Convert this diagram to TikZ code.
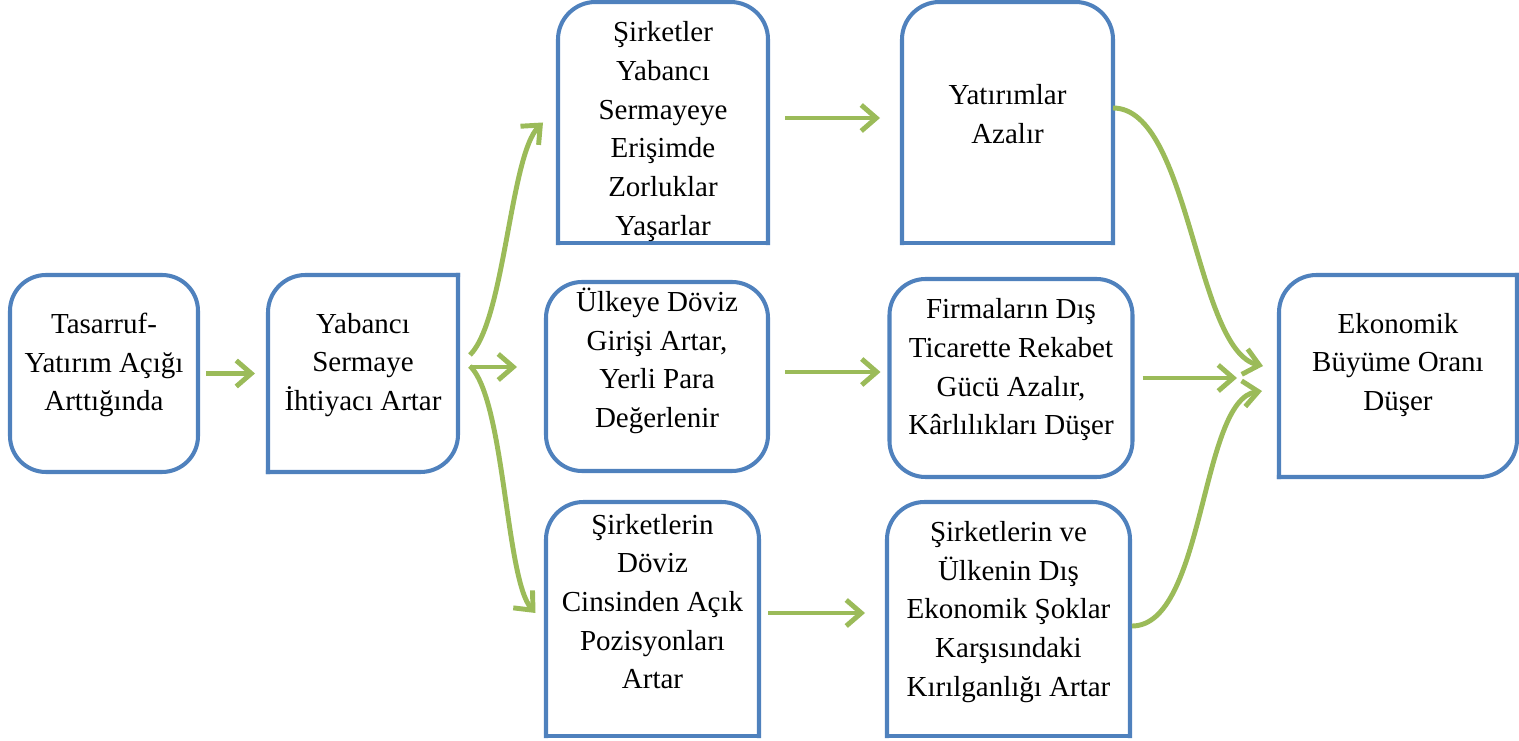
\documentclass[tikz,border=0pt]{standalone}
\usepackage{fontspec}
\setmainfont{Liberation Serif}
\usetikzlibrary{arrows.meta}
\definecolor{boxblue}{HTML}{4F81BD}
\definecolor{arrowgreen}{HTML}{9BBB59}

\begin{document}
\begin{tikzpicture}[
        box/.style={inner sep=0pt, outer sep=0pt},
        round/.style={box, draw=boxblue, line width=2.3pt, rounded corners=0.72cm},
        edge/.style={draw=boxblue, line width=2.3pt, rounded corners=0.75cm, line cap=rect},
        txt/.style={align=center, inner sep=0pt, font=\fontsize{16.5}{22}\selectfont},
        flow/.style={draw=arrowgreen, line width=2.8pt, -{Straight Barb[length=0.3cm,width=0.52cm]}}]
        \useasboundingbox (0,0) rectangle (30.38,14.8);

        \node[round, minimum width=3.76cm, minimum height=3.94cm] (1) at (2.08,7.33) {};
        \node[box, minimum width=3.80cm, minimum height=3.94cm] (2) at (7.26,7.33) {};
        \node[box, minimum width=4.20cm, minimum height=4.82cm] (3) at (13.26,12.35) {};
        \node[box, minimum width=4.22cm, minimum height=4.82cm] (4) at (20.15,12.35) {};
        \node[round, minimum width=4.44cm, minimum height=3.78cm] (5) at (13.14,7.27) {};
        \node[round, minimum width=4.86cm, minimum height=3.96cm] (6) at (20.22,7.24) {};
        \node[box, minimum width=4.26cm, minimum height=4.68cm] (7) at (13.05,2.42) {};
        \node[box, minimum width=4.86cm, minimum height=4.68cm] (8) at (20.17,2.42) {};
        \node[box, minimum width=4.76cm, minimum height=4.04cm] (9) at (27.96,7.28) {};

        %\path[edge] (2.south west) rectangle (2.north east);
        \path[edge] (2.north east) -- (2.north west) -- (2.south west);
        \path[edge] (2.south west) -- (2.south east) -- (2.north east);
        \path[edge] (3.south west) -- (3.north west) -- (3.north east) -- (3.south east);
        \path[edge] (3.south west) -- (3.south east);
        \path[edge] (4.south west) -- (4.north west) -- (4.north east) -- (4.south east);
        \path[edge] (4.south west) -- (4.south east);
        \path[edge] (7.south west) -- (7.north west) -- (7.north east) -- (7.south east);
        \path[edge] (7.south west) -- (7.south east);
        \path[edge] (8.south west) -- (8.north west) -- (8.north east) -- (8.south east);
        \path[edge] (8.south west) -- (8.south east);
        \path[edge] (9.north east) -- (9.north west) -- (9.south west);
        \path[edge] (9.south west) -- (9.south east) -- (9.north east);

        \node[txt] (t1) at (2.08,7.50) {Tasarruf-\\Yatırım Açığı\\Arttığında};
        \node[txt] (t2) at (7.26,7.50) {Yabancı\\Sermaye\\İhtiyacı Artar};
        \node[txt] (t3) at (13.26,12.17) {Şirketler\\Yabancı\\Sermayeye\\Erişimde\\Zorluklar\\Yaşarlar};
        \node[txt] (t4) at (20.15,12.52) {Yatırımlar\\Azalır};
        \node[txt] (t5) at (13.14,7.58) {Ülkeye Döviz\\Girişi Artar,\\Yerli Para\\Değerlenir};
        \node[txt] (t6) at (20.22,7.40) {Firmaların Dış\\Ticarette Rekabet\\Gücü Azalır,\\Kârlılıkları Düşer};
        \node[txt] (t7) at (13.05,2.77) {Şirketlerin\\Döviz\\Cinsinden Açık\\Pozisyonları\\Artar};
        \node[txt] (t8) at (20.17,2.56) {Şirketlerin ve\\Ülkenin Dış\\Ekonomik Şoklar\\Karşısındaki\\Kırılganlığı Artar};
        \node[txt] (t9) at (27.96,7.50) {Ekonomik\\Büyüme Oranı\\Düşer};

        \path[flow,shorten <=0.16cm,shorten >=0.26cm] (1) -- (2);
        \path[flow] ([shift={(0.24,0.37)}]2.east) .. controls +(0.7,0.7) and +(-0.66,-0.64) .. ([xshift=-0.3cm]3.west);
        \path[flow,shorten <=0.24cm,shorten >=0.58cm] ([yshift=0.13cm]2.east) -- ([yshift=0.13cm]2.east -| 5.west);
        \path[flow] ([shift={(0.24,0.15)}]2.east) .. controls +(0.7,-0.68) and +(-0.6,0.66) .. ([shift={(-0.21,0.12)}]7.west);
        \path[flow,shorten <=0.34cm,shorten >=0.44cm] ([yshift=0.09cm]3.east) -- ([yshift=0.09cm]3.east -| 4.west);
        \path[flow,shorten <=0.34cm,shorten >=0.18cm] ([yshift=0.09cm]5.east) -- ([yshift=0.09cm]5.east -| 6.west);
        \path[flow,shorten <=0.18cm,shorten >=0.44cm] ([yshift=0.12cm]7.east) -- ([yshift=0.12cm]7.east -| 8.west);
        \path[flow,shorten <=0.2cm,shorten >=0.84cm] (6.east) -- (6.east -| 9.west);
        \path[flow] ([yshift=0.29cm]4.east) .. controls +(1.54,0) and +(-1.36,0.32) .. ([shift={(-0.32,0.2)}]9.west);
        \path[flow] ([shift={(0.04,-0.14)}]8.east) .. controls +(1.46,0) and +(-1.24,-0.18) .. ([shift={(-0.34,-0.3)}]9.west);
    \end{tikzpicture}
\end{document}
